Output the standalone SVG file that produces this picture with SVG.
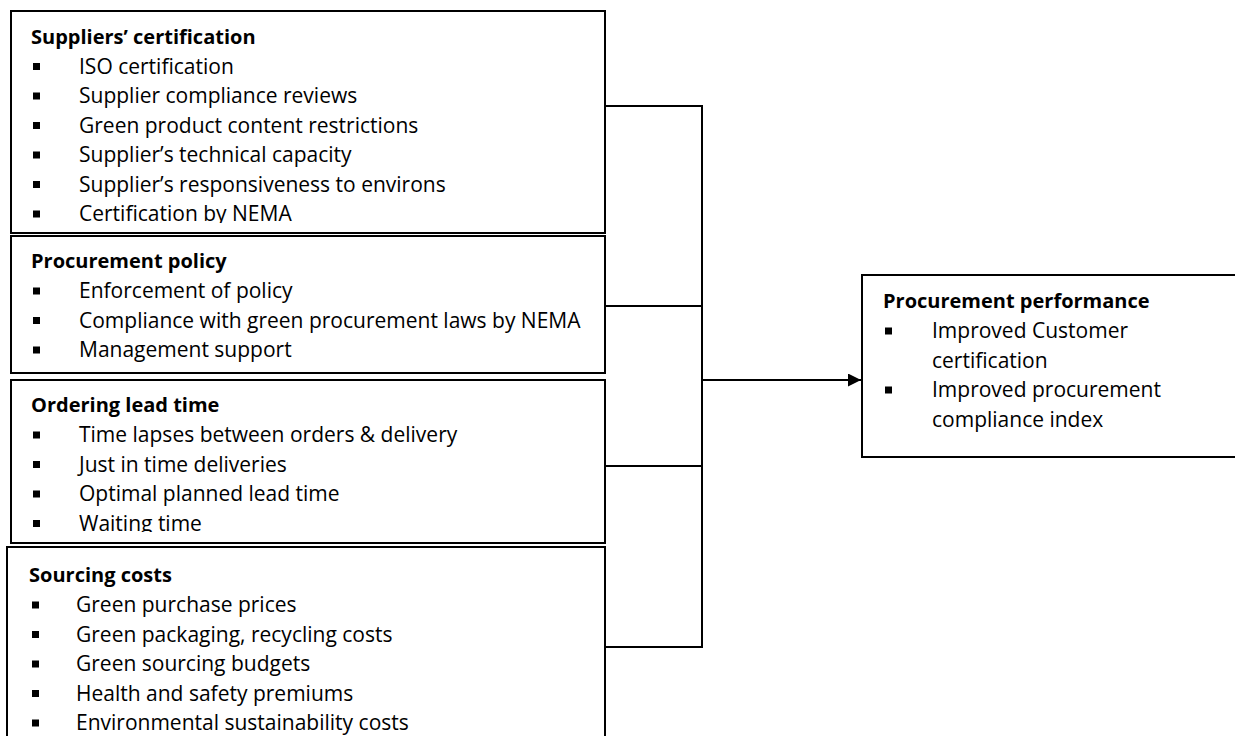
<svg xmlns="http://www.w3.org/2000/svg" width="1235" height="736" viewBox="0 0 1235 736">
<style>
  .box { fill: #fff; stroke: #000; stroke-width: 2; }
  .t { font-family: "Open Sans", "Noto Sans", sans-serif; font-size: 21px; fill: #000; }
  .h { font-weight: bold; font-size: 20px; }
  .b { fill: #000; }
  .conn { fill: none; stroke: #000; stroke-width: 2; }
</style>
<defs>
  <marker id="arr" viewBox="0 0 10 10" refX="10" refY="5" markerWidth="7.5" markerHeight="6.5" markerUnits="strokeWidth" orient="auto">
    <path d="M0,0 L10,5 L0,10 Z" fill="#000"/>
  </marker>
  <clipPath id="c1"><rect x="0" y="0" width="610" height="223"/></clipPath>
  <clipPath id="c3"><rect x="0" y="380" width="610" height="152"/></clipPath>
</defs>
<rect width="1235" height="736" fill="#fff"/>

<g id="connectors">
  <path class="conn" d="M605,106 H702 V647 H605"/>
  <path class="conn" d="M605,306 H702"/>
  <path class="conn" d="M605,466 H702"/>
  <path class="conn" d="M702,380 H861" marker-end="url(#arr)"/>
</g>

<g id="suppliers-certification">
  <rect class="box" x="11" y="11" width="594" height="222"/>
  <g clip-path="url(#c1)">
    <text class="t h" x="31" y="44">Suppliers’ certification</text>
    <g class="b">
      <rect x="33" y="63" width="7" height="7"/>
      <rect x="33" y="92.5" width="7" height="7"/>
      <rect x="33" y="122" width="7" height="7"/>
      <rect x="33" y="151.5" width="7" height="7"/>
      <rect x="33" y="181" width="7" height="7"/>
      <rect x="33" y="210.5" width="7" height="7"/>
    </g>
    <text class="t" x="79" y="73.5">ISO certification</text>
    <text class="t" x="79" y="103">Supplier compliance reviews</text>
    <text class="t" x="79" y="132.5">Green product content restrictions</text>
    <text class="t" x="79" y="162">Supplier’s technical capacity</text>
    <text class="t" x="79" y="191.5">Supplier’s responsiveness to environs</text>
    <text class="t" x="79" y="221">Certification by NEMA</text>
  </g>
</g>

<g id="procurement-policy">
  <rect class="box" x="11" y="236" width="594" height="137"/>
  <text class="t h" x="31" y="268">Procurement policy</text>
  <g class="b">
    <rect x="33" y="287.5" width="7" height="7"/>
    <rect x="33" y="317" width="7" height="7"/>
    <rect x="33" y="346.5" width="7" height="7"/>
  </g>
  <text class="t" x="79" y="298">Enforcement of policy</text>
  <text class="t" x="79" y="327.5">Compliance with green procurement laws by NEMA</text>
  <text class="t" x="79" y="357">Management support</text>
</g>

<g id="ordering-lead-time">
  <rect class="box" x="11" y="380" width="594" height="163"/>
  <g clip-path="url(#c3)">
    <text class="t h" x="31" y="412">Ordering lead time</text>
    <g class="b">
      <rect x="33" y="431.5" width="7" height="7"/>
      <rect x="33" y="461" width="7" height="7"/>
      <rect x="33" y="490.5" width="7" height="7"/>
      <rect x="33" y="520" width="7" height="7"/>
    </g>
    <text class="t" x="79" y="442">Time lapses between orders &amp; delivery</text>
    <text class="t" x="79" y="471.5">Just in time deliveries</text>
    <text class="t" x="79" y="501">Optimal planned lead time</text>
    <text class="t" x="79" y="530.5">Waiting time</text>
  </g>
</g>

<g id="sourcing-costs">
  <rect class="box" x="7" y="547" width="598" height="200"/>
  <text class="t h" x="29" y="582">Sourcing costs</text>
  <g class="b">
    <rect x="32" y="601.5" width="7" height="7"/>
    <rect x="32" y="631" width="7" height="7"/>
    <rect x="32" y="660.5" width="7" height="7"/>
    <rect x="32" y="690" width="7" height="7"/>
    <rect x="32" y="719.5" width="7" height="7"/>
  </g>
  <text class="t" x="76" y="612">Green purchase prices</text>
  <text class="t" x="76" y="641.5">Green packaging, recycling costs</text>
  <text class="t" x="76" y="671">Green sourcing budgets</text>
  <text class="t" x="76" y="700.5">Health and safety premiums</text>
  <text class="t" x="76" y="730">Environmental sustainability costs</text>
</g>

<g id="procurement-performance">
  <rect class="box" x="862" y="275" width="380" height="182"/>
  <text class="t h" x="883" y="308">Procurement performance</text>
  <g class="b">
    <rect x="885" y="327.5" width="7" height="7"/>
    <rect x="885" y="386.5" width="7" height="7"/>
  </g>
  <text class="t" x="932" y="338">Improved Customer</text>
  <text class="t" x="932" y="367.5">certification</text>
  <text class="t" x="932" y="397">Improved procurement</text>
  <text class="t" x="932" y="426.5">compliance index</text>
</g>
</svg>
